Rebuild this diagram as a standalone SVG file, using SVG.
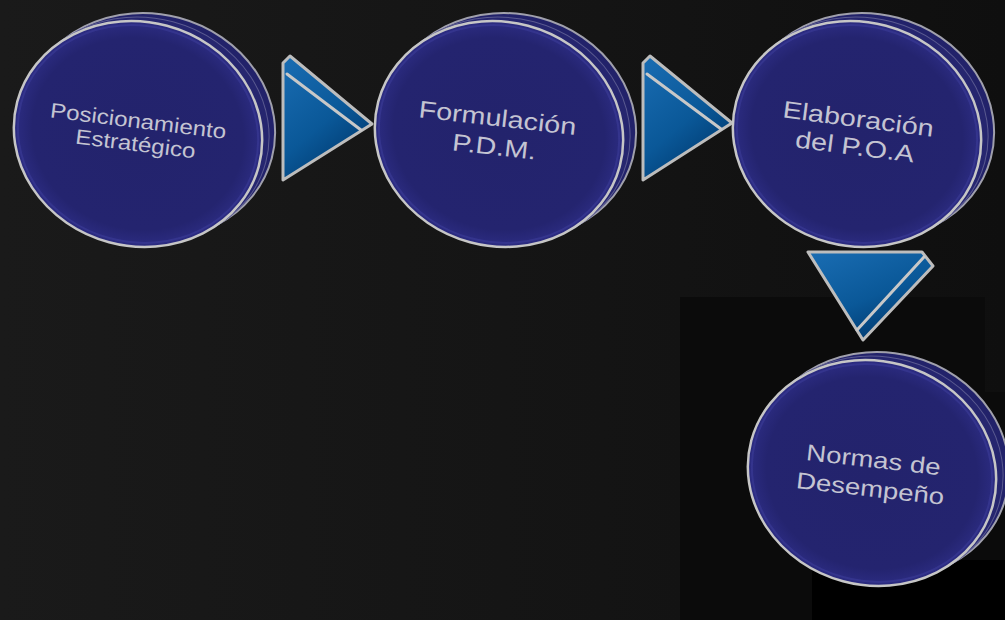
<svg xmlns="http://www.w3.org/2000/svg" xmlns:xlink="http://www.w3.org/1999/xlink" width="1005" height="620" viewBox="0 0 1005 620">
<style>
.lbl{font-family:"Liberation Sans",Arial,sans-serif;fill:#c4c4d2;text-anchor:middle}
.arrow{fill:url(#arrowGrad);stroke:#bdbdbd;stroke-width:3;stroke-linejoin:round}
.stripe{stroke:#c8c8c8;stroke-width:3;stroke-linecap:round}
</style>
<defs>
<linearGradient id="bgGrad" x1="0" y1="0" x2="1" y2="0">
<stop offset="0" stop-color="#1a1a1a"/>
<stop offset="0.6" stop-color="#141414"/>
<stop offset="1" stop-color="#0f0f0f"/>
</linearGradient>
<radialGradient id="faceGrad" cx="0.5" cy="0.5" r="0.5">
<stop offset="0" stop-color="#23236c"/>
<stop offset="0.85" stop-color="#24246f"/>
<stop offset="1" stop-color="#2c2c82"/>
</radialGradient>
<linearGradient id="arrowGrad" x1="0" y1="0" x2="0.6" y2="1">
<stop offset="0" stop-color="#1a6db3"/>
<stop offset="0.6" stop-color="#0a5898"/>
<stop offset="1" stop-color="#003a70"/>
</linearGradient>
<g id="disk">
<ellipse cx="12" cy="-8" rx="126" ry="112" transform="rotate(15 12 -8)" fill="#22226a" stroke="#a0a0ac" stroke-width="2"/>
<ellipse cx="6" cy="-4" rx="126" ry="112" transform="rotate(15 6 -4)" fill="#26266f" stroke="#5a5a90" stroke-width="1"/>
<ellipse cx="0" cy="0" rx="125" ry="112" transform="rotate(15)" fill="url(#faceGrad)" stroke="#c6c6c6" stroke-width="2.5"/>
<ellipse cx="0" cy="0" rx="121" ry="108" transform="rotate(15)" fill="none" stroke="#3c3c98" stroke-width="2" opacity="0.6"/>
</g>
</defs>
<rect x="0" y="0" width="1005" height="620" fill="url(#bgGrad)"/>
<path d="M680 297 H985 V392 H1005 V620 H680 Z" fill="#0b0b0b"/>
<rect x="812" y="560" width="193" height="60" fill="#000"/>

<g id="connectors">
<g id="arrow1">
<polygon class="arrow" points="283,63 290,56 372,124 283,180"/>
<line class="stripe" x1="287" y1="74" x2="361" y2="130"/>
</g>
<g id="arrow2">
<polygon class="arrow" points="643,63 650,56 732,123 643,180"/>
<line class="stripe" x1="647" y1="74" x2="721" y2="129"/>
</g>
<g id="arrow3">
<polygon class="arrow" points="808,252 922,252 933,266 863,340"/>
<line class="stripe" x1="924" y1="257" x2="857" y2="330"/>
</g>
</g>

<g id="node1">
<use xlink:href="#disk" href="#disk" transform="translate(138,134)"/>
<text class="lbl" font-size="21" transform="translate(136,139.5) rotate(7) scale(1.15,1)"><tspan x="0" y="-11.5">Posicionamiento</tspan><tspan x="0" y="11.5">Estratégico</tspan></text>
</g>
<g id="node2">
<use xlink:href="#disk" href="#disk" transform="translate(499,134)"/>
<text class="lbl" font-size="24" transform="translate(495,140.5) rotate(6.5) scale(1.2,1)"><tspan x="0" y="-14.5">Formulación</tspan><tspan x="0" y="14.5">P.D.M.</tspan></text>
</g>
<g id="node3">
<use xlink:href="#disk" href="#disk" transform="translate(857,134)"/>
<text class="lbl" font-size="24" transform="translate(855.5,141) rotate(7.4) scale(1.2,1)"><tspan x="0" y="-14">Elaboración</tspan><tspan x="0" y="14">del P.O.A</tspan></text>
</g>
<g id="node4">
<use xlink:href="#disk" href="#disk" transform="translate(872,473)"/>
<text class="lbl" font-size="23" transform="translate(871,482) rotate(6.5) scale(1.2,1)"><tspan x="0" y="-14.5">Normas de</tspan><tspan x="0" y="14.5">Desempeño</tspan></text>
</g>
</svg>
